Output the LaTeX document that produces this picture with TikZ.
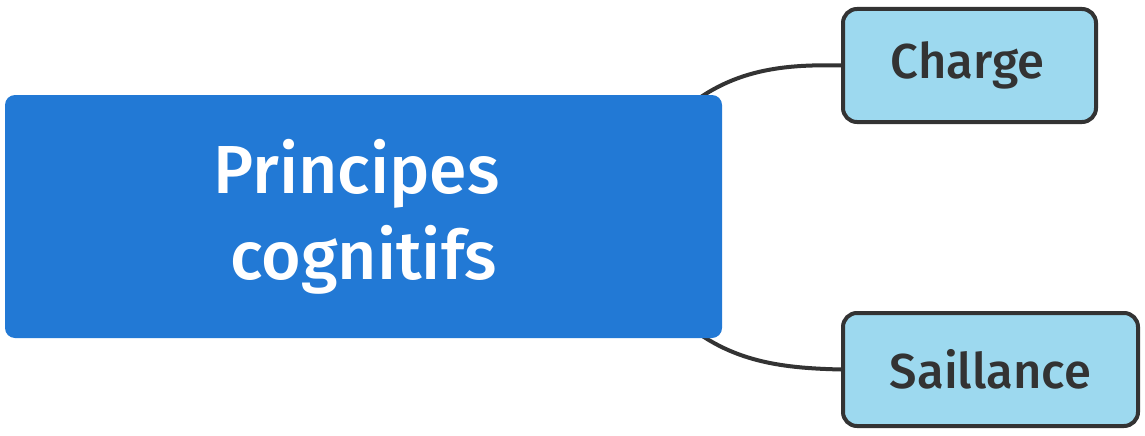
\documentclass[tikz,border=0pt]{standalone}
\usepackage{fontspec}
\usetikzlibrary{backgrounds}
\setmainfont{Fira Sans}
\newfontfamily\medfont{Fira Sans Medium}
\definecolor{mainblue}{HTML}{2279D5}
\definecolor{lightblue}{HTML}{9DD9EF}
\definecolor{darkgray}{HTML}{333333}
\begin{document}
\begin{tikzpicture}[x=1pt,y=-1pt,
  mainbox/.style={fill=mainblue, rounded corners=10pt, minimum width=717pt, minimum height=243pt, inner sep=0pt, text=white, align=center, font=\medfont\fontsize{68}{86}\selectfont},
  subbox/.style={fill=lightblue, draw=darkgray, line width=4pt, rounded corners=14pt, minimum height=113pt, inner sep=0pt, text=darkgray, font=\medfont\fontsize{49}{58}\selectfont},
  link/.style={draw=darkgray, line width=4pt}]
\useasboundingbox (0,0) rectangle (1145,436);
\node[mainbox] (main) at (363.5,216.5) {\hspace*{-14pt}Principes\\cognitifs};
\node[subbox, minimum width=253pt] (charge) at (969.5,65.5) {Charge\hspace*{4pt}};
\node[subbox, minimum width=295pt] (saillance) at (990.5,369.5) {Saillance};
\coordinate (topstart) at (675,118);
\coordinate (botstart) at (675,314);
\begin{scope}[on background layer]
\draw[link] (topstart) .. controls (725,70) and (780,64) .. (charge.west);
\draw[link] (botstart) .. controls (725,362) and (780,368) .. (saillance.west);
\end{scope}
\end{tikzpicture}
\end{document}
